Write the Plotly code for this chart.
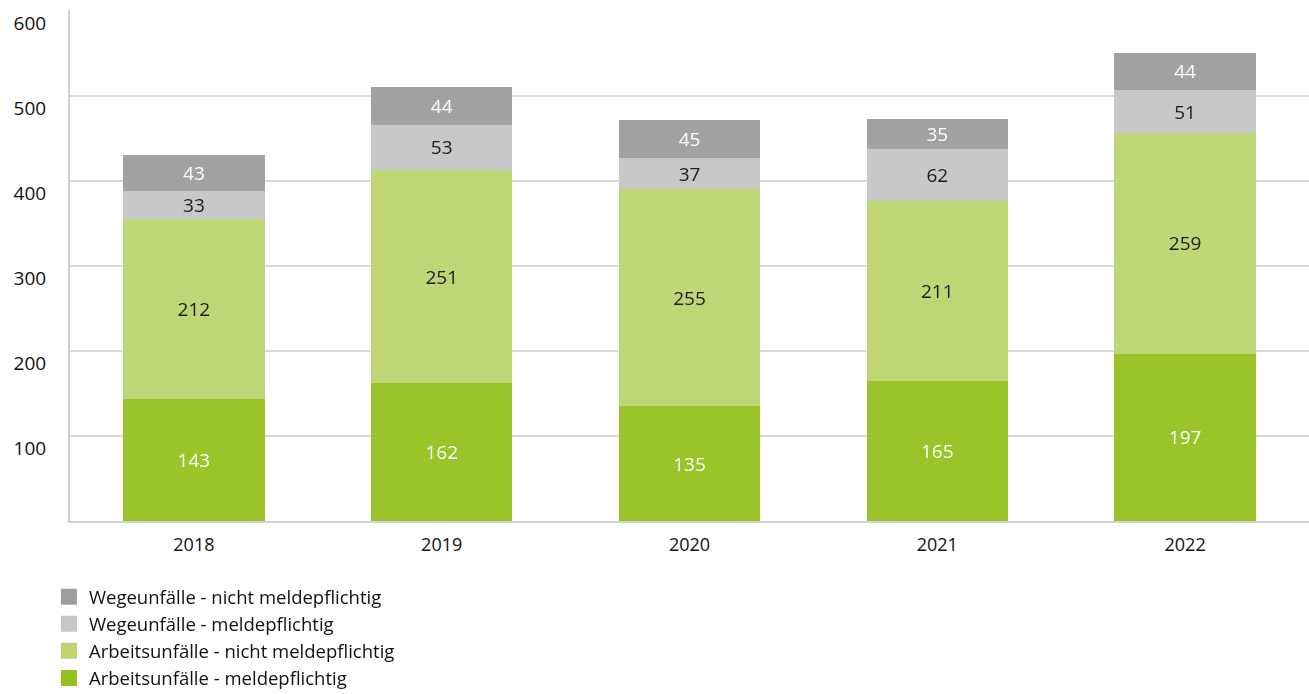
import plotly.graph_objects as go

years = ["2018", "2019", "2020", "2021", "2022"]
arb_melde = [143, 162, 135, 165, 197]
arb_nicht = [212, 251, 255, 211, 259]
weg_melde = [33, 53, 37, 62, 51]
weg_nicht = [43, 44, 45, 35, 44]

series = [
    ("Arbeitsunfälle - meldepflichtig", arb_melde, "#95c11f", "white"),
    ("Arbeitsunfälle - nicht meldepflichtig", arb_nicht, "#bbd46e", "#111111"),
    ("Wegeunfälle - meldepflichtig", weg_melde, "#c6c6c6", "#111111"),
    ("Wegeunfälle - nicht meldepflichtig", weg_nicht, "#9d9d9c", "white"),
]

fig = go.Figure()
for name, vals, color, tcol in series:
    fig.add_trace(go.Bar(
        x=years, y=vals, name=name, showlegend=False,
        marker=dict(color=color, line=dict(width=0)),
        opacity=0.95,
        text=[str(v) for v in vals], textposition="inside",
        insidetextanchor="middle", textangle=0,
        textfont=dict(color=tcol, size=19, family="Open Sans"),
        constraintext="none",
    ))
# legend entries with square swatches
for name, vals, color, tcol in series:
    fig.add_trace(go.Scatter(
        x=[None], y=[None], mode="markers", name=name,
        marker=dict(symbol="square", size=18, color=color),
    ))

fig.update_layout(
    barmode="stack",
    bargap=0.43,
    width=1309, height=694,
    margin=dict(l=70, r=0, t=10, b=173, autoexpand=False),
    plot_bgcolor="white", paper_bgcolor="white",
    font=dict(family="Open Sans", color="#111111"),
    legend=dict(
        traceorder="reversed", orientation="v",
        x=-0.017, xanchor="left", y=-0.112, yanchor="top",
        font=dict(size=18.5, family="Open Sans", color="#111111"),
        itemsizing="trace", itemwidth=30, tracegroupgap=0,
        bgcolor="rgba(0,0,0,0)",
    ),
    xaxis=dict(
        showline=True, linecolor="#d0d0d0", linewidth=2,
        ticks="", tickfont=dict(size=18), ticklabelstandoff=6,
    ),
    yaxis=dict(
        range=[0, 601], tickvals=[100, 200, 300, 400, 500, 600],
        showgrid=True, gridcolor="#d9d9d9", gridwidth=1.5,
        showline=True, linecolor="#d0d0d0", linewidth=2,
        zeroline=False, ticks="", tickfont=dict(size=19),
        ticklabelstandoff=18, ticklabelshift=12,
    ),
)

fig.write_html("out.html")
